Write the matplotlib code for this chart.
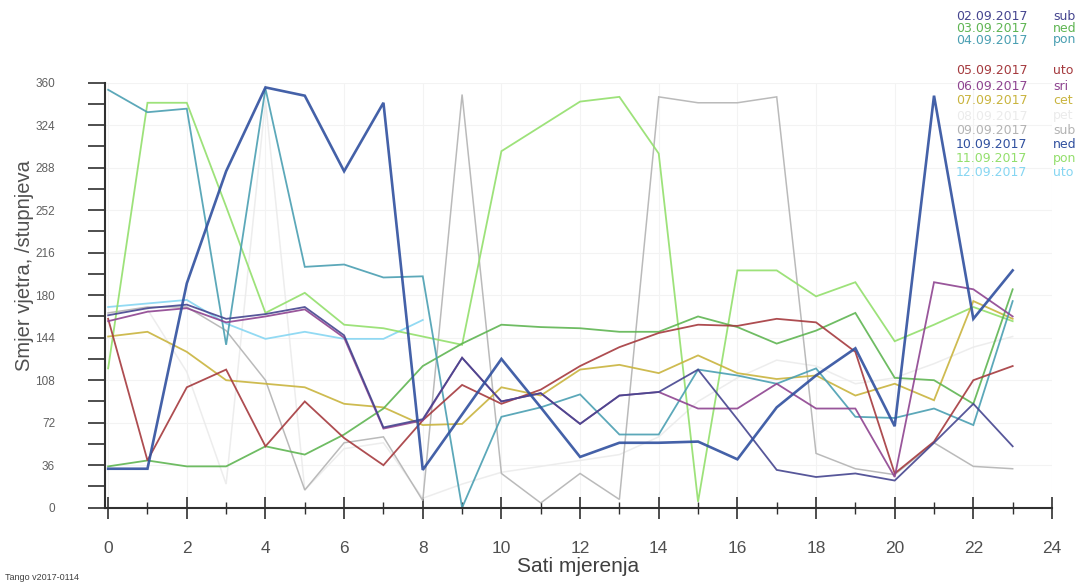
import numpy as np
import matplotlib
matplotlib.use("Agg")
import matplotlib.pyplot as plt
from matplotlib.ticker import MultipleLocator

# hourly wind direction (degrees)
hours = np.arange(24)

dates = ["02.09.2017", "03.09.2017", "04.09.2017", "05.09.2017", "06.09.2017", "07.09.2017",
         "08.09.2017", "09.09.2017", "10.09.2017", "11.09.2017", "12.09.2017"]
days = ["sub", "ned", "pon", "uto", "sri", "cet", "pet", "sub", "ned", "pon", "uto"]
colors = ["#45458f", "#5fb552", "#4a9fb2", "#a53a3e", "#8e4490", "#c9b43e",
          "#ebebeb", "#b3b3b3", "#30509f", "#93df6c", "#86d6f2"]

d02 = [163, 169, 172, 160, 164, 170, 146, 68, 75, 127, 90, 97, 71, 95, 98, 117, 75, 32, 26, 29, 23, 55, 88, 52]
d03 = [35, 40, 35, 35, 52, 45, 62, 84, 120, 139, 155, 153, 152, 149, 149, 162, 153, 139, 150, 165, 110, 108, 88, 185]
d04 = [354, 335, 338, 138, 355, 204, 206, 195, 196, 0, 77, 85, 96, 62, 62, 117, 112, 105, 118, 77, 76, 84, 70, 175]
d05 = [160, 40, 102, 117, 52, 90, 59, 36, 74, 104, 88, 100, 120, 136, 148, 155, 154, 160, 157, 132, 29, 56, 108, 120]
d06 = [158, 166, 169, 157, 162, 168, 144, 67, 74, 127, 90, 97, 71, 95, 98, 84, 84, 105, 84, 84, 26, 191, 185, 162]
d07 = [145, 149, 132, 108, 105, 102, 88, 85, 70, 71, 102, 95, 117, 121, 114, 129, 114, 109, 112, 95, 105, 91, 175, 160]
d08 = [165, 168, 115, 20, 345, 15, 50, 55, 8, 20, 30, 35, 40, 45, 60, 90, 110, 125, 120, 105, 110, 122, 136, 145]
d09 = [165, 170, 170, 150, 108, 15, 55, 60, 6, 350, 29, 4, 29, 7, 348, 343, 343, 348, 46, 33, 28, 55, 35, 33]
d10 = [33, 33, 190, 285, 356, 349, 285, 343, 32, 79, 126, 85, 43, 55, 55, 56, 41, 85, 112, 135, 69, 349, 160, 201]
d11 = [118, 343, 343, 255, 165, 182, 155, 152, 145, 138, 302, 323, 344, 348, 300, 5, 201, 201, 179, 191, 141, 155, 170, 158]
d12 = [170, 173, 176, 156, 143, 149, 143, 143, 159]

series = [d02, d03, d04, d05, d06, d07, d08, d09, d10, d11, d12]
widths = [1.3, 1.3, 1.3, 1.3, 1.3, 1.3, 1.1, 1.1, 1.9, 1.3, 1.3]

label_font = ["Liberation Sans Narrow", "Liberation Sans", "DejaVu Sans"]

fig = plt.figure(figsize=(10.81, 5.83), dpi=100)
ax = fig.add_axes([105 / 1081, 75.3 / 583, 947 / 1081, 425 / 583])

# light lines first so the dark ones sit on top
order = [6, 7, 10, 9, 5, 1, 2, 3, 4, 0, 8]
for i in order:
    vals = series[i]
    ax.plot(hours[:len(vals)], vals, color=colors[i], lw=widths[i], alpha=0.9,
            solid_joinstyle="miter")

ax.set_xlim(-0.08, 24)
ax.set_ylim(0, 360)
ax.xaxis.set_major_locator(MultipleLocator(2))
ax.xaxis.set_minor_locator(MultipleLocator(1))
ax.yaxis.set_major_locator(MultipleLocator(36))
ax.yaxis.set_minor_locator(MultipleLocator(18))

for side in ["top", "right"]:
    ax.spines[side].set_visible(False)
for side in ["left", "bottom"]:
    ax.spines[side].set_color("#303030")
    ax.spines[side].set_linewidth(1.5)

ax.grid(True, which="major", color="#f3f3f3", lw=0.8)
ax.set_axisbelow(True)

ax.tick_params(axis="x", which="major", direction="inout", length=16, width=1.2,
               color="#303030", pad=16, labelsize=12.5, labelcolor="#505050")
ax.tick_params(axis="x", which="minor", direction="inout", length=8, width=1.0, color="#303030")
ax.tick_params(axis="y", which="both", direction="out", length=12, width=1.2,
               color="#303030", pad=24, labelsize=8.5, labelcolor="#606060")
for lab in ax.get_xticklabels() + ax.get_yticklabels():
    lab.set_family(label_font)

fig.text(578 / 1081, 1 - 567 / 583, "Sati mjerenja", ha="center", va="center",
         fontsize=15, color="#404040", family=label_font)
fig.text(25 / 1081, 1 - 266 / 583, "Smjer vjetra, /stupnjeva", ha="center", va="center",
         rotation=90, fontsize=14.5, color="#505050", family=label_font)
fig.text(5 / 1081, 1 - 577 / 583, "Tango v2017-0114", ha="left", va="center",
         fontsize=6.5, color="#404040", family=label_font)

# legend block at the top right
rows_y = [16, 28, 40, 70, 86, 101, 116, 130, 145, 158, 172]
for d, dn, c, y in zip(dates, days, colors, rows_y):
    fig.text(956 / 1081, 1 - y / 583, d, ha="left", va="center", fontsize=9,
             color=c, family="DejaVu Sans")
    fig.text(1053 / 1081, 1 - y / 583, dn, ha="left", va="center", fontsize=9,
             color=c, family="DejaVu Sans")

fig.savefig("out.png", dpi=100)
